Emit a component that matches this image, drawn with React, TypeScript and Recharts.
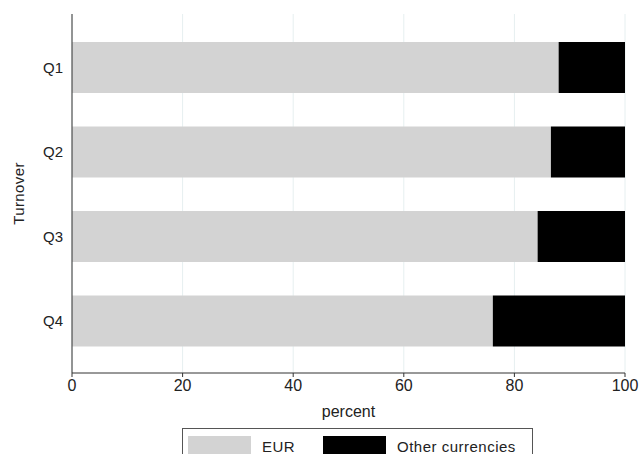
import { BarChart, Bar, XAxis, YAxis, CartesianGrid, Label } from 'recharts';

const categories = ['Q1', 'Q2', 'Q3', 'Q4'];
const eur = [88.0, 86.6, 84.2, 76.1];
const other = [12.0, 13.4, 15.8, 23.9];
const xTicks = [0, 20, 40, 60, 80, 100];

const data = categories.map((q, i) => ({ q, eur: eur[i], other: other[i] }));

const FONT = '"Liberation Sans", Arial, sans-serif';

function TurnoverLabel({ viewBox }: any) {
  const cy = viewBox.y + viewBox.height / 2;
  return (
    <text
      x={24}
      y={cy}
      transform={`rotate(-90, 24, ${cy})`}
      textAnchor="middle"
      fill="#222"
      fontSize={15}
      fontFamily={FONT}
      letterSpacing={0.4}
    >
      Turnover
    </text>
  );
}

function Swatch({ color }: { color: string }) {
  return <span style={{ display: 'inline-block', width: 63, height: 18, background: color }} />;
}

export default function App() {
  return (
    <div
      style={{
        position: 'absolute',
        left: 0,
        top: 0,
        width: 641,
        height: 454,
        overflow: 'hidden',
        background: '#fff',
        fontFamily: FONT,
      }}
    >
      <BarChart
        width={641}
        height={454}
        data={data}
        layout="vertical"
        margin={{ top: 14, right: 16, bottom: 31, left: 12 }}
        barCategoryGap="20%"
      >
        <CartesianGrid horizontal={false} stroke="#e6eff0" />
        <XAxis
          type="number"
          domain={[0, 100]}
          ticks={xTicks}
          height={50}
          tickSize={4}
          tickMargin={3}
          stroke="#333"
          tick={{ fill: '#222', fontSize: 16, fontFamily: FONT }}
        >
          <Label
            value="percent"
            position="insideBottom"
            offset={6}
            fill="#222"
            fontSize={16}
            fontFamily={FONT}
          />
        </XAxis>
        <YAxis
          type="category"
          dataKey="q"
          width={60}
          tickSize={0}
          tickMargin={9}
          padding={{ top: 11, bottom: 10 }}
          stroke="#333"
          tick={{ fill: '#222', fontSize: 15, fontFamily: FONT }}
        >
          <Label content={TurnoverLabel} />
        </YAxis>
        <Bar dataKey="eur" stackId="a" fill="#d3d3d3" isAnimationActive={false} />
        <Bar dataKey="other" stackId="a" fill="#000000" isAnimationActive={false} />
      </BarChart>
      <div
        style={{
          position: 'absolute',
          left: 182,
          top: 428,
          width: 351,
          height: 40,
          border: '1px solid #555',
          boxSizing: 'border-box',
          fontSize: 15,
          letterSpacing: 0.5,
          color: '#222',
        }}
      >
        <div style={{ position: 'absolute', left: 5, top: 7 }}>
          <Swatch color="#d3d3d3" />
        </div>
        <div style={{ position: 'absolute', left: 79, top: 9, lineHeight: '17px' }}>EUR</div>
        <div style={{ position: 'absolute', left: 140, top: 7 }}>
          <Swatch color="#000000" />
        </div>
        <div style={{ position: 'absolute', left: 214, top: 9, lineHeight: '17px' }}>Other currencies</div>
      </div>
    </div>
  );
}
